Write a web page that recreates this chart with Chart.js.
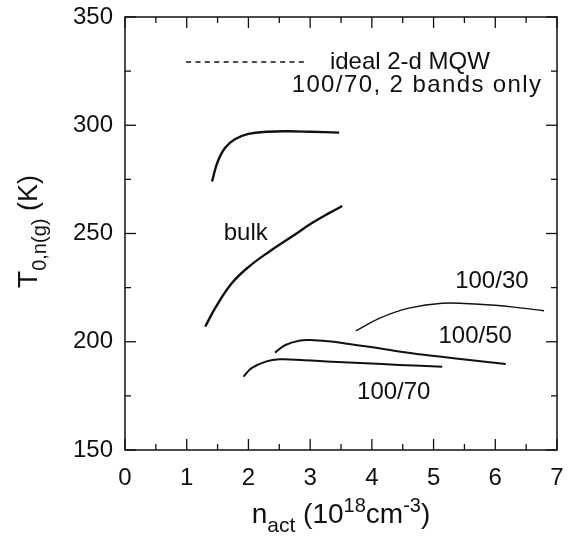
<!DOCTYPE html>
<html>
<head>
<meta charset="utf-8">
<title>T0 vs n_act</title>
<script src="https://cdn.jsdelivr.net/npm/chart.js@4.4.1/dist/chart.umd.min.js"></script>
<style>
  html, body { margin: 0; padding: 0; background: #fff; }
  #wrap { width: 574px; height: 537px; }
</style>
</head>
<body>
<div id="wrap"><canvas id="t0Chart" width="574" height="537"></canvas></div>
<script>
/* =====================================
   Data
===================================== */
const xTicks = [0, 1, 2, 3, 4, 5, 6, 7];
const yTicks = [150, 200, 250, 300, 350];

// 100/70, 2 bands only
const twoBandX = [1.41, 1.50, 1.62, 1.78, 2.00, 2.30, 2.65, 3.00, 3.47];
const twoBandY = [274, 283, 289.5, 293.5, 296, 297, 297.2, 297, 296.6];

// bulk
const bulkX = [1.30, 1.47, 1.73, 2.00, 2.33, 2.70, 3.03, 3.30, 3.52];
const bulkY = [207, 216, 227, 234.5, 241.5, 248.5, 254.8, 259.3, 262.7];

// 100/30
const qw30X = [3.74, 4.12, 4.60, 5.14, 5.74, 6.30, 6.79];
const qw30Y = [205, 210.8, 215.5, 217.8, 217.3, 216, 214.3];

// 100/50
const qw50X = [2.43, 2.60, 2.82, 3.00, 3.30, 3.63, 4.12, 4.44, 4.90, 5.36, 5.80, 6.17];
const qw50Y = [195, 198.5, 200.5, 200.8, 200.2, 199, 197, 195.5, 193.8, 192.3, 190.9, 189.7];

// 100/70
const qw70X = [1.92, 2.05, 2.28, 2.50, 2.90, 3.36, 3.90, 4.44, 5.14];
const qw70Y = [183.9, 187.8, 190.8, 191.9, 191.5, 190.8, 190.1, 189.3, 188.5];

// text labels, anchored at their left edge / vertical middle
const labelText = ["100/70, 2 bands only", "bulk", "100/30", "100/50", "100/70", "ideal 2-d MQW"];
const labelX = [2.70, 1.60, 5.35, 5.08, 3.76, 3.32];
const labelY = [318.6, 250.2, 228, 202.7, 176.8, 329.2];

// dashed legend sample for the ideal 2-d MQW case
const legendLineX = [0.99, 2.97];
const legendLineY = [329.2, 329.2];

const FONT = "'Liberation Sans', Arial, Helvetica, sans-serif";

function toPoints(xs, ys) {
  return xs.map((x, i) => ({ x: x, y: ys[i] }));
}

/* =====================================
   Frame, inward ticks, labels and titles
===================================== */
const framePlugin = {
  id: "frame",

  afterDraw(chart) {
    const ctx = chart.ctx;
    const area = chart.chartArea;
    const xs = chart.scales.x;
    const ys = chart.scales.y;

    ctx.save();
    ctx.strokeStyle = "#111";
    ctx.lineWidth = 1.5;
    ctx.strokeRect(area.left, area.top, area.right - area.left, area.bottom - area.top);

    // ticks on all four sides, majors plus half-step minors
    ctx.lineWidth = 1.3;
    const major = 11;
    const minor = 6;

    xTicks.forEach((v, i) => {
      const px = xs.getPixelForValue(v);
      drawTick(ctx, px, area.bottom, px, area.bottom - major);
      drawTick(ctx, px, area.top, px, area.top + major);
      if (i < xTicks.length - 1) {
        const mx = xs.getPixelForValue((v + xTicks[i + 1]) / 2);
        drawTick(ctx, mx, area.bottom, mx, area.bottom - minor);
        drawTick(ctx, mx, area.top, mx, area.top + minor);
      }
    });

    yTicks.forEach((v, i) => {
      const py = ys.getPixelForValue(v);
      drawTick(ctx, area.left, py, area.left + major, py);
      drawTick(ctx, area.right, py, area.right - major, py);
      if (i < yTicks.length - 1) {
        const my = ys.getPixelForValue((v + yTicks[i + 1]) / 2);
        drawTick(ctx, area.left, my, area.left + minor, my);
        drawTick(ctx, area.right, my, area.right - minor, my);
      }
    });

    // legend sample
    ctx.lineWidth = 1.3;
    ctx.setLineDash([5, 4.4]);
    drawTick(
      ctx,
      xs.getPixelForValue(legendLineX[0]), Math.round(ys.getPixelForValue(legendLineY[0])),
      xs.getPixelForValue(legendLineX[1]), Math.round(ys.getPixelForValue(legendLineY[1]))
    );
    ctx.setLineDash([]);

    // curve labels (the long one is set a little looser)
    ctx.fillStyle = "#111";
    ctx.font = "24px " + FONT;
    ctx.textAlign = "left";
    ctx.textBaseline = "middle";
    labelText.forEach((t, i) => {
      ctx.letterSpacing = t.indexOf("bands") > 0 ? "1.4px" : "0px";
      ctx.fillText(t, xs.getPixelForValue(labelX[i]), ys.getPixelForValue(labelY[i]));
    });
    ctx.letterSpacing = "0px";

    drawXTitle(ctx, area);
    drawYTitle(ctx, area);

    ctx.restore();
  }
};

function drawTick(ctx, x1, y1, x2, y2) {
  ctx.beginPath();
  ctx.moveTo(x1, y1);
  ctx.lineTo(x2, y2);
  ctx.stroke();
}

// draws runs of [text, size, baseline shift] centred on cx
function drawRuns(ctx, runs, cx, baseY) {
  let total = 0;
  runs.forEach((r) => {
    ctx.font = r[1] + "px " + FONT;
    total += ctx.measureText(r[0]).width;
  });
  let x = cx - total / 2;
  ctx.textAlign = "left";
  ctx.textBaseline = "alphabetic";
  runs.forEach((r) => {
    ctx.font = r[1] + "px " + FONT;
    ctx.fillText(r[0], x, baseY + r[2]);
    x += ctx.measureText(r[0]).width;
  });
}

function drawXTitle(ctx, area) {
  const runs = [
    ["n", 28, 0],
    ["act", 21, 9],
    [" (10", 28, 0],
    ["18", 20, -11],
    ["cm", 28, 0],
    ["-3", 20, -11],
    [")", 28, 0]
  ];
  drawRuns(ctx, runs, (area.left + area.right) / 2, area.bottom + 73);
}

function drawYTitle(ctx, area) {
  const runs = [
    ["T", 28, 0],
    ["0,n(g)", 20, 9],
    [" (K)", 27, 0]
  ];
  ctx.save();
  ctx.translate(37, (area.top + area.bottom) / 2 - 2);
  ctx.rotate(-Math.PI / 2);
  drawRuns(ctx, runs, 0, 0);
  ctx.restore();
}

/* =====================================
   Chart
===================================== */
function lineSet(xs, ys, width) {
  return {
    data: toPoints(xs, ys),
    showLine: true,
    borderColor: "#111",
    borderWidth: width,
    pointRadius: 0,
    fill: false,
    tension: 0.4
  };
}

function drawT0Chart() {
  const canvas = document.getElementById("t0Chart");
  if (!canvas || typeof Chart === "undefined") return;

  new Chart(canvas, {
    type: "scatter",

    data: {
      datasets: [
        lineSet(twoBandX, twoBandY, 2.4),
        lineSet(bulkX, bulkY, 2.4),
        lineSet(qw30X, qw30Y, 1.4),
        lineSet(qw50X, qw50Y, 2),
        lineSet(qw70X, qw70Y, 2)
      ]
    },

    options: {
      responsive: false,
      animation: false,
      layout: {
        padding: { top: 17, right: 17, left: 0, bottom: 0 }
      },
      plugins: {
        legend: { display: false },
        tooltip: { enabled: false }
      },
      scales: {
        x: {
          type: "linear",
          min: xTicks[0],
          max: xTicks[xTicks.length - 1],
          afterBuildTicks: (scale) => {
            scale.ticks = xTicks.map((v) => ({ value: v }));
          },
          afterFit: (scale) => {
            scale.height = 87;
            scale.paddingLeft = 0;
            scale.paddingRight = 0;
          },
          grid: { display: false, drawTicks: false },
          border: { display: false },
          ticks: {
            padding: 14,
            color: "#111",
            font: { size: 24, family: FONT }
          }
        },
        y: {
          type: "linear",
          min: yTicks[0],
          max: yTicks[yTicks.length - 1],
          afterBuildTicks: (scale) => {
            scale.ticks = yTicks.map((v) => ({ value: v }));
          },
          afterFit: (scale) => {
            scale.width = 125;
            scale.paddingTop = 0;
            scale.paddingBottom = 0;
          },
          grid: { display: false, drawTicks: false },
          border: { display: false },
          ticks: {
            padding: 12,
            color: "#111",
            font: { size: 24, family: FONT }
          }
        }
      }
    },

    plugins: [framePlugin]
  });
}

document.addEventListener("DOMContentLoaded", drawT0Chart);
</script>
</body>
</html>
